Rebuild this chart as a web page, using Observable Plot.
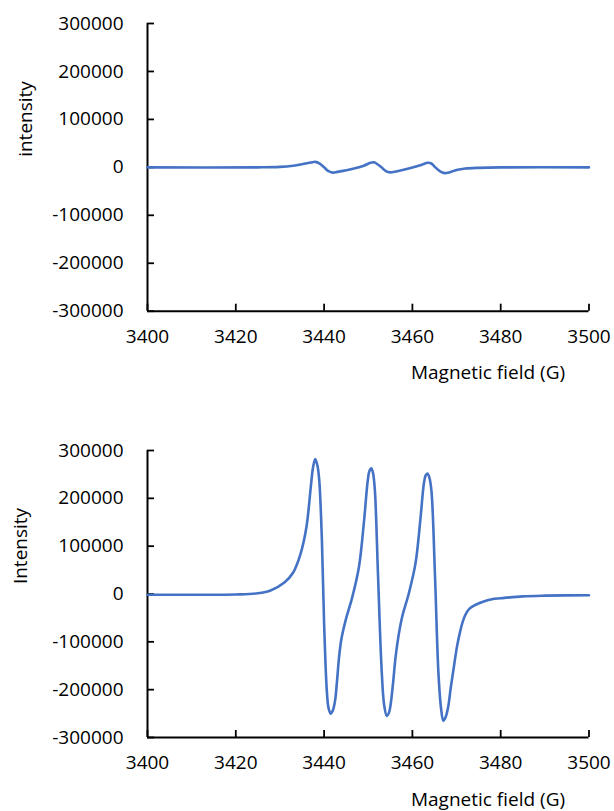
<!DOCTYPE html>
<html>
<head>
<meta charset="utf-8">
<script src="https://cdn.jsdelivr.net/npm/d3@7"></script>
<script src="https://cdn.jsdelivr.net/npm/@observablehq/plot@0.6"></script>
<style>
  html, body { margin: 0; padding: 0; background: #fff; }
  #chart svg { display: block; }
</style>
</head>
<body>
<div id="chart"></div>
<script>
// Tick values
const xTicks = [3400, 3420, 3440, 3460, 3480, 3500];
const yTicks = [-300000, -200000, -100000, 0, 100000, 200000, 300000];

// Top panel spectrum
const fieldTop = [3400, 3425, 3430, 3433, 3435, 3437, 3438, 3439, 3440, 3441, 3442, 3443, 3445, 3447, 3449, 3450.5, 3451.3, 3452, 3453, 3454, 3455, 3456, 3458, 3460, 3462, 3463.5, 3464.3, 3465.2, 3466.2, 3467.3, 3468.5, 3470, 3472, 3475, 3480, 3500];
const intensityTop = [0, 0, 1000, 3500, 6500, 10000, 11500, 8000, 0, -8000, -11000, -9500, -6000, -2000, 3500, 9500, 10500, 7000, 0, -8000, -10500, -9000, -5000, -500, 5000, 9500, 8000, 0, -8000, -12000, -10000, -5500, -2500, -1000, 0, 0];

// Bottom panel spectrum
const fieldBottom = [3400, 3410, 3420, 3425, 3428, 3431, 3433, 3434.7, 3436, 3437, 3437.5, 3438, 3438.5, 3438.9, 3439.5, 3440, 3440.6, 3441.0, 3441.5, 3442.0, 3442.5, 3442.9, 3443.4, 3443.9, 3444.9, 3446.4, 3447.9, 3449, 3449.9, 3450.3, 3450.7, 3451.1, 3451.5, 3452.2, 3453, 3453.6, 3454.2, 3454.7, 3455.1, 3455.6, 3456.2, 3456.9, 3457.7, 3459.2, 3460.7, 3461.8, 3462.6, 3463.0, 3463.4, 3463.8, 3464.3, 3465.1, 3465.9, 3466.5, 3467, 3467.5, 3468.1, 3468.7, 3469.4, 3470.1, 3470.9, 3471.5, 3472.2, 3473, 3474, 3476, 3478, 3480, 3485, 3490, 3500];
const intensityBottom = [-1500, -1500, -1000, 1500, 8000, 24000, 45000, 85000, 140000, 225000, 265000, 282000, 268000, 238000, 113000, -61000, -200000, -238000, -250000, -243000, -222000, -185000, -131000, -95000, -54000, -6000, 57000, 148000, 238000, 258000, 263000, 252000, 217000, 43000, -152000, -232000, -255000, -248000, -229000, -188000, -131000, -85000, -47000, 1500, 64000, 155000, 231000, 248000, 252000, 245000, 217000, 43000, -166000, -240000, -265000, -258000, -236000, -195000, -152000, -110000, -75000, -55000, -40000, -30000, -24000, -16000, -11000, -9000, -5000, -3500, -2500];

const xTitle = "Magnetic field (G)";
const yTitleTop = "intensity";
const yTitleBottom = "Intensity";

const FONT = "'Open Sans', sans-serif";
const TEXT = "#000";

function panel(fields, values, opts) {
  const data = fields.map((f, i) => ({field: f, value: values[i]}));
  const svg = Plot.plot({
    width: 614,
    height: opts.height,
    marginLeft: 147,
    marginRight: 25.5,
    marginTop: opts.marginTop,
    marginBottom: opts.marginBottom,
    style: {fontFamily: FONT, fontSize: "19px", color: TEXT, background: "white", overflow: "visible"},
    x: {domain: [3400, 3500]},
    y: {domain: [-300000, 300000]},
    marks: [
      Plot.axisX(xTicks, {tickSize: -7, tickPadding: 25, tickFormat: d => String(d), strokeWidth: 1.8, label: null, fontSize: 19}),
      Plot.axisY(yTicks, {tickSize: -7, tickPadding: 31, tickFormat: d => String(d), strokeWidth: 1.8, label: null, fontSize: 19}),
      Plot.ruleX([3400], {stroke: "#000", strokeWidth: 2}),
      Plot.ruleY([-300000], {stroke: "#000", strokeWidth: 2}),
      Plot.line(data, {x: "field", y: "value", stroke: "#4472C4", strokeWidth: 2.6, curve: "catmull-rom"})
    ]
  });
  const s = d3.select(svg);
  s.append("text")
    .attr("x", 488).attr("y", opts.xTitleY)
    .attr("text-anchor", "middle").attr("dominant-baseline", "central")
    .attr("font-family", FONT).attr("font-size", 19).attr("fill", TEXT)
    .text(xTitle);
  s.append("text")
    .attr("transform", `translate(${opts.yTitleX},${opts.yTitleY}) rotate(-90)`)
    .attr("text-anchor", "middle").attr("dominant-baseline", "central")
    .attr("font-family", FONT).attr("font-size", 19).attr("fill", TEXT)
    .text(opts.yTitle);
  return svg;
}

const chart = document.getElementById("chart");
chart.appendChild(panel(fieldTop, intensityTop, {
  height: 400, marginTop: 23, marginBottom: 89.3,
  xTitleY: 372, yTitleX: 25, yTitleY: 119, yTitle: yTitleTop
}));
chart.appendChild(panel(fieldBottom, intensityBottom, {
  height: 411, marginTop: 50, marginBottom: 74,
  xTitleY: 399, yTitleX: 20, yTitleY: 146, yTitle: yTitleBottom
}));
</script>
</body>
</html>
